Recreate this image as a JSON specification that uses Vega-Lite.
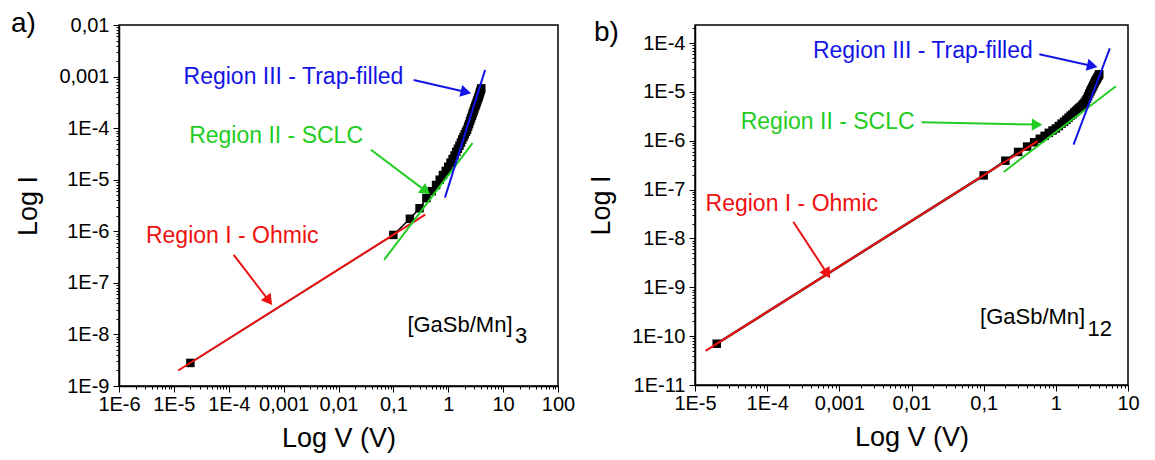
{
  "$schema": "https://vega.github.io/schema/vega-lite/v6.json",
  "background": "white",
  "padding": {"left": 10, "top": 9, "right": 5, "bottom": 5},
  "config": {
    "font": "Liberation Sans",
    "view": {"stroke": "black", "strokeWidth": 1.5},
    "axis": {"labelFontSize": 20, "titleFontSize": 27, "titleFontWeight": "normal", "labelColor": "black", "titleColor": "black", "tickColor": "black", "domainColor": "black", "domainWidth": 1.5, "tickWidth": 1, "labelPadding": 4, "grid": false},
    "text": {"fontSize": 23}
  },
  "datasets": {
    "a_pts": [
      {"V": 2e-5, "I": 2.8e-9}, {"V": 0.1, "I": 8.5e-7}, {"V": 0.2, "I": 1.75e-6}, {"V": 0.3, "I": 2.8e-6}, {"V": 0.4, "I": 4.4e-6},
      {"V": 0.5, "I": 6.0e-6}, {"V": 0.6, "I": 7.9e-6}, {"V": 0.7, "I": 1.0e-5}, {"V": 0.8, "I": 1.23e-5}, {"V": 0.9, "I": 1.48e-5},
      {"V": 1.0, "I": 1.78e-5}, {"V": 1.1, "I": 2.14e-5}, {"V": 1.2, "I": 2.51e-5}, {"V": 1.3, "I": 2.95e-5}, {"V": 1.4, "I": 3.47e-5},
      {"V": 1.5, "I": 3.98e-5}, {"V": 1.6, "I": 4.57e-5}, {"V": 1.7, "I": 5.25e-5}, {"V": 1.8, "I": 6.03e-5}, {"V": 1.9, "I": 6.76e-5},
      {"V": 2.0, "I": 7.59e-5}, {"V": 2.1, "I": 8.51e-5}, {"V": 2.2, "I": 9.33e-5}, {"V": 2.3, "I": 1.07e-4}, {"V": 2.4, "I": 1.2e-4},
      {"V": 2.5, "I": 1.38e-4}, {"V": 2.6, "I": 1.55e-4}, {"V": 2.7, "I": 1.74e-4}, {"V": 2.8, "I": 1.95e-4}, {"V": 2.9, "I": 2.14e-4},
      {"V": 3.0, "I": 2.4e-4}, {"V": 3.1, "I": 2.63e-4}, {"V": 3.2, "I": 2.88e-4}, {"V": 3.3, "I": 3.16e-4}, {"V": 3.4, "I": 3.47e-4},
      {"V": 3.5, "I": 3.8e-4}, {"V": 3.6, "I": 4.1e-4}, {"V": 3.7, "I": 4.5e-4}, {"V": 3.8, "I": 4.95e-4}, {"V": 3.9, "I": 5.4e-4},
      {"V": 4.0, "I": 5.9e-4}
    ],
    "a_fit": [
      {"id": "I", "V": 1.2e-5, "I": 2.0e-9}, {"id": "I", "V": 0.38, "I": 2.1e-6},
      {"id": "II", "V": 0.068, "I": 2.8e-7}, {"id": "II", "V": 2.77, "I": 5.1e-5},
      {"id": "III", "V": 0.87, "I": 4.5e-6}, {"id": "III", "V": 4.7, "I": 1.35e-3}
    ],
    "a_arrows": [
      {"id": "III", "V": 0.234, "I": 8.6e-4, "end": false}, {"id": "III", "V": 2.1, "I": 5.0e-4, "end": true},
      {"id": "II", "V": 0.039, "I": 3.8e-5, "end": false}, {"id": "II", "V": 0.39, "I": 6.0e-6, "end": true},
      {"id": "I", "V": 1.23e-4, "I": 3.5e-7, "end": false}, {"id": "I", "V": 5.4e-4, "I": 4.5e-8, "end": true}
    ],
    "a_text": [
      {"t": "Region III - Trap-filled", "V": 1.5e-5, "I": 1.0e-3, "id": "III"},
      {"t": "Region II - SCLC", "V": 1.9e-5, "I": 7.1e-5, "id": "II"},
      {"t": "Region I - Ohmic", "V": 3.1e-6, "I": 8.1e-7, "id": "I"}
    ],
    "a_sample": [
      {"t": "[GaSb/Mn]", "V": 0.18, "I": 1.55e-8, "id": "S"},
      {"t": "3", "V": 16.5, "I": 9.3e-9, "id": "S"}
    ],
    "b_pts": [
      {"V": 2e-5, "I": 7e-11}, {"V": 0.1, "I": 1.95e-7}, {"V": 0.2, "I": 3.9e-7}, {"V": 0.3, "I": 5.9e-7}, {"V": 0.4, "I": 7.6e-7},
      {"V": 0.5, "I": 9.3e-7}, {"V": 0.6, "I": 1.1e-6}, {"V": 0.7, "I": 1.26e-6}, {"V": 0.8, "I": 1.45e-6}, {"V": 0.9, "I": 1.62e-6},
      {"V": 1.0, "I": 1.78e-6}, {"V": 1.1, "I": 2.0e-6}, {"V": 1.2, "I": 2.24e-6}, {"V": 1.3, "I": 2.45e-6}, {"V": 1.4, "I": 2.69e-6},
      {"V": 1.5, "I": 2.95e-6}, {"V": 1.6, "I": 3.24e-6}, {"V": 1.7, "I": 3.47e-6}, {"V": 1.8, "I": 3.8e-6}, {"V": 1.9, "I": 4.07e-6},
      {"V": 2.0, "I": 4.37e-6}, {"V": 2.1, "I": 4.68e-6}, {"V": 2.2, "I": 4.9e-6}, {"V": 2.3, "I": 5.25e-6}, {"V": 2.4, "I": 5.62e-6},
      {"V": 2.5, "I": 6.03e-6}, {"V": 2.6, "I": 6.6e-6}, {"V": 2.7, "I": 7.24e-6}, {"V": 2.8, "I": 8.13e-6}, {"V": 2.9, "I": 9.12e-6},
      {"V": 3.0, "I": 1.02e-5}, {"V": 3.1, "I": 1.12e-5}, {"V": 3.2, "I": 1.23e-5}, {"V": 3.3, "I": 1.35e-5}, {"V": 3.4, "I": 1.48e-5},
      {"V": 3.5, "I": 1.62e-5}, {"V": 3.6, "I": 1.74e-5}, {"V": 3.7, "I": 1.86e-5}, {"V": 3.8, "I": 2.0e-5}, {"V": 3.9, "I": 2.14e-5},
      {"V": 4.0, "I": 2.29e-5}
    ],
    "b_fit": [
      {"id": "I", "V": 1.4e-5, "I": 5.0e-11}, {"id": "I", "V": 0.56, "I": 9.8e-7},
      {"id": "II", "V": 0.19, "I": 2.3e-7}, {"id": "II", "V": 6.8, "I": 1.3e-5},
      {"id": "III", "V": 1.76, "I": 8.3e-7}, {"id": "III", "V": 5.6, "I": 7.8e-5}
    ],
    "b_arrows": [
      {"id": "III", "V": 0.59, "I": 5.9e-5, "end": false}, {"id": "III", "V": 3.2, "I": 3.4e-5, "end": true},
      {"id": "II", "V": 0.0138, "I": 2.4e-6, "end": false}, {"id": "II", "V": 0.55, "I": 2.14e-6, "end": true},
      {"id": "I", "V": 2.3e-4, "I": 2.2e-8, "end": false}, {"id": "I", "V": 6.8e-4, "I": 1.9e-9, "end": true}
    ],
    "b_text": [
      {"t": "Region III - Trap-filled", "V": 4.3e-4, "I": 6.9e-5, "id": "III"},
      {"t": "Region II - SCLC", "V": 4.3e-5, "I": 2.4e-6, "id": "II"},
      {"t": "Region I - Ohmic", "V": 1.4e-5, "I": 5.1e-8, "id": "I"}
    ],
    "b_sample": [
      {"t": "[GaSb/Mn]", "V": 0.089, "I": 2.5e-10, "id": "S"},
      {"t": "12", "V": 2.75, "I": 1.4e-10, "id": "S"}
    ]
  },
  "hconcat": [
    {
      "width": 439,
      "height": 361,
      "title": {"text": "a)", "anchor": "start", "frame": "group", "fontSize": 28, "fontWeight": "normal", "baseline": "alphabetic", "offset": 0, "dx": -108, "dy": 45},
      "resolve": {"axis": {"x": "independent", "y": "independent"}},
      "layer": [
        {
          "data": {"name": "a_pts"},
          "mark": {"type": "line", "color": "black", "strokeWidth": 1.5},
          "encoding": {
            "x": {"field": "V", "type": "quantitative", "scale": {"type": "log", "domain": [1e-6, 100], "nice": false},
              "axis": {"orient": "bottom", "values": [1e-6, 1e-5, 1e-4, 0.001, 0.01, 0.1, 1, 10, 100], "labelExpr": "datum.value < 0.001 ? '1E' + round(log(datum.value)/LN10) : replace(toString(datum.value), '.', ',')", "title": "Log V (V)", "tickSize": 6, "labelPadding": 2, "labelOverlap": false, "labelFlush": false, "titlePadding": 11}},
            "y": {"field": "I", "type": "quantitative", "scale": {"type": "log", "domain": [1e-9, 0.01], "nice": false},
              "axis": {"orient": "left", "values": [1e-9, 1e-8, 1e-7, 1e-6, 1e-5, 1e-4, 0.001, 0.01], "labelExpr": "datum.value < 0.001 ? '1E' + round(log(datum.value)/LN10) : replace(toString(datum.value), '.', ',')", "title": "Log I", "tickSize": 6, "labelOverlap": false, "labelFlush": false, "titlePadding": 16}}
          }
        },
        {
          "data": {"name": "a_pts"},
          "mark": {"type": "point", "shape": "square", "filled": true, "color": "black", "size": 72, "opacity": 1},
          "encoding": {
            "x": {"field": "V", "type": "quantitative", "scale": {"type": "log", "domain": [1e-6, 100], "nice": false},
              "axis": {"orient": "bottom", "values": [2e-6,3e-6,4e-6,5e-6,6e-6,7e-6,8e-6,9e-6,2e-5,3e-5,4e-5,5e-5,6e-5,7e-5,8e-5,9e-5,2e-4,3e-4,4e-4,5e-4,6e-4,7e-4,8e-4,9e-4,0.002,0.003,0.004,0.005,0.006,0.007,0.008,0.009,0.02,0.03,0.04,0.05,0.06,0.07,0.08,0.09,0.2,0.3,0.4,0.5,0.6,0.7,0.8,0.9,2,3,4,5,6,7,8,9,20,30,40,50,60,70,80,90], "labels": false, "domain": false, "tickSize": 3, "title": null}},
            "y": {"field": "I", "type": "quantitative", "scale": {"type": "log", "domain": [1e-9, 0.01], "nice": false},
              "axis": {"orient": "left", "values": [2e-9,3e-9,4e-9,5e-9,6e-9,7e-9,8e-9,9e-9,2e-8,3e-8,4e-8,5e-8,6e-8,7e-8,8e-8,9e-8,2e-7,3e-7,4e-7,5e-7,6e-7,7e-7,8e-7,9e-7,2e-6,3e-6,4e-6,5e-6,6e-6,7e-6,8e-6,9e-6,2e-5,3e-5,4e-5,5e-5,6e-5,7e-5,8e-5,9e-5,2e-4,3e-4,4e-4,5e-4,6e-4,7e-4,8e-4,9e-4,0.002,0.003,0.004,0.005,0.006,0.007,0.008,0.009], "labels": false, "domain": false, "tickSize": 3, "title": null}}
          }
        },
        {
          "data": {"name": "a_fit"},
          "mark": {"type": "line", "strokeWidth": 2, "clip": true},
          "encoding": {
            "x": {"field": "V", "type": "quantitative", "axis": null},
            "y": {"field": "I", "type": "quantitative", "axis": null},
            "detail": {"field": "id"},
            "color": {"field": "id", "type": "nominal", "scale": {"domain": ["I", "II", "III", "S"], "range": ["#ee1111", "#22cc22", "#1414e6", "#000000"]}, "legend": null}
          }
        },
        {
          "data": {"name": "a_arrows"},
          "mark": {"type": "line", "strokeWidth": 2},
          "encoding": {
            "x": {"field": "V", "type": "quantitative", "axis": null},
            "y": {"field": "I", "type": "quantitative", "axis": null},
            "detail": {"field": "id"},
            "color": {"field": "id", "type": "nominal", "scale": {"domain": ["I", "II", "III", "S"], "range": ["#ee1111", "#22cc22", "#1414e6", "#000000"]}, "legend": null}
          }
        },
        {
          "data": {"name": "a_arrows"},
          "transform": [{"filter": "datum.end && datum.id == 'III'"}],
          "mark": {"type": "point", "shape": "triangle-right", "filled": true, "size": 150, "angle": 13, "color": "#1414e6", "opacity": 1},
          "encoding": {"x": {"field": "V", "type": "quantitative", "axis": null}, "y": {"field": "I", "type": "quantitative", "axis": null}}
        },
        {
          "data": {"name": "a_arrows"},
          "transform": [{"filter": "datum.end && datum.id == 'II'"}],
          "mark": {"type": "point", "shape": "triangle-right", "filled": true, "size": 150, "angle": 37, "color": "#22cc22", "opacity": 1},
          "encoding": {"x": {"field": "V", "type": "quantitative", "axis": null}, "y": {"field": "I", "type": "quantitative", "axis": null}}
        },
        {
          "data": {"name": "a_arrows"},
          "transform": [{"filter": "datum.end && datum.id == 'I'"}],
          "mark": {"type": "point", "shape": "triangle-right", "filled": true, "size": 150, "angle": 53, "color": "#ee1111", "opacity": 1},
          "encoding": {"x": {"field": "V", "type": "quantitative", "axis": null}, "y": {"field": "I", "type": "quantitative", "axis": null}}
        },
        {
          "data": {"name": "a_text"},
          "mark": {"type": "text", "align": "left", "baseline": "middle", "fontSize": 23},
          "encoding": {
            "x": {"field": "V", "type": "quantitative", "axis": null},
            "y": {"field": "I", "type": "quantitative", "axis": null},
            "text": {"field": "t"},
            "color": {"field": "id", "type": "nominal", "scale": {"domain": ["I", "II", "III", "S"], "range": ["#ee1111", "#22cc22", "#1414e6", "#000000"]}, "legend": null}
          }
        },
        {
          "data": {"name": "a_sample"},
          "mark": {"type": "text", "align": "left", "baseline": "middle", "fontSize": 22, "color": "black"},
          "encoding": {
            "x": {"field": "V", "type": "quantitative", "axis": null},
            "y": {"field": "I", "type": "quantitative", "axis": null},
            "text": {"field": "t"}
          }
        }
      ]
    },
    {
      "width": 433,
      "height": 360,
      "title": {"text": "b)", "anchor": "start", "frame": "group", "fontSize": 28, "fontWeight": "normal", "baseline": "alphabetic", "offset": 0, "dx": -101, "dy": 44},
      "resolve": {"axis": {"x": "independent", "y": "independent"}},
      "layer": [
        {
          "data": {"name": "b_pts"},
          "mark": {"type": "line", "color": "#222222", "strokeWidth": 2.5},
          "encoding": {
            "x": {"field": "V", "type": "quantitative", "scale": {"type": "log", "domain": [1e-5, 10], "nice": false},
              "axis": {"orient": "bottom", "values": [1e-5, 1e-4, 0.001, 0.01, 0.1, 1, 10], "labelExpr": "datum.value < 0.001 ? '1E' + round(log(datum.value)/LN10) : replace(toString(datum.value), '.', ',')", "title": "Log V (V)", "tickSize": 6, "labelPadding": 2, "labelOverlap": false, "labelFlush": false, "titlePadding": 11}},
            "y": {"field": "I", "type": "quantitative", "scale": {"type": "log", "domain": [1e-11, 2.34e-4], "nice": false},
              "axis": {"orient": "left", "values": [1e-11, 1e-10, 1e-9, 1e-8, 1e-7, 1e-6, 1e-5, 1e-4], "labelExpr": "datum.value < 0.001 ? '1E' + round(log(datum.value)/LN10) : replace(toString(datum.value), '.', ',')", "title": "Log I", "tickSize": 6, "labelOverlap": false, "labelFlush": false, "titlePadding": 16}}
          }
        },
        {
          "data": {"name": "b_pts"},
          "mark": {"type": "point", "shape": "square", "filled": true, "color": "black", "size": 72, "opacity": 1},
          "encoding": {
            "x": {"field": "V", "type": "quantitative", "scale": {"type": "log", "domain": [1e-5, 10], "nice": false},
              "axis": {"orient": "bottom", "values": [2e-5,3e-5,4e-5,5e-5,6e-5,7e-5,8e-5,9e-5,2e-4,3e-4,4e-4,5e-4,6e-4,7e-4,8e-4,9e-4,0.002,0.003,0.004,0.005,0.006,0.007,0.008,0.009,0.02,0.03,0.04,0.05,0.06,0.07,0.08,0.09,0.2,0.3,0.4,0.5,0.6,0.7,0.8,0.9,2,3,4,5,6,7,8,9], "labels": false, "domain": false, "tickSize": 3, "title": null}},
            "y": {"field": "I", "type": "quantitative", "scale": {"type": "log", "domain": [1e-11, 2.34e-4], "nice": false},
              "axis": {"orient": "left", "values": [2e-11,3e-11,4e-11,5e-11,6e-11,7e-11,8e-11,9e-11,2e-10,3e-10,4e-10,5e-10,6e-10,7e-10,8e-10,9e-10,2e-9,3e-9,4e-9,5e-9,6e-9,7e-9,8e-9,9e-9,2e-8,3e-8,4e-8,5e-8,6e-8,7e-8,8e-8,9e-8,2e-7,3e-7,4e-7,5e-7,6e-7,7e-7,8e-7,9e-7,2e-6,3e-6,4e-6,5e-6,6e-6,7e-6,8e-6,9e-6,2e-5,3e-5,4e-5,5e-5,6e-5,7e-5,8e-5,9e-5,2e-4], "labels": false, "domain": false, "tickSize": 3, "title": null}}
          }
        },
        {
          "data": {"name": "b_fit"},
          "mark": {"type": "line", "strokeWidth": 2, "clip": true},
          "encoding": {
            "x": {"field": "V", "type": "quantitative", "axis": null},
            "y": {"field": "I", "type": "quantitative", "axis": null},
            "detail": {"field": "id"},
            "color": {"field": "id", "type": "nominal", "scale": {"domain": ["I", "II", "III", "S"], "range": ["#ee1111", "#22cc22", "#1414e6", "#000000"]}, "legend": null}
          }
        },
        {
          "data": {"name": "b_arrows"},
          "mark": {"type": "line", "strokeWidth": 2},
          "encoding": {
            "x": {"field": "V", "type": "quantitative", "axis": null},
            "y": {"field": "I", "type": "quantitative", "axis": null},
            "detail": {"field": "id"},
            "color": {"field": "id", "type": "nominal", "scale": {"domain": ["I", "II", "III", "S"], "range": ["#ee1111", "#22cc22", "#1414e6", "#000000"]}, "legend": null}
          }
        },
        {
          "data": {"name": "b_arrows"},
          "transform": [{"filter": "datum.end && datum.id == 'III'"}],
          "mark": {"type": "point", "shape": "triangle-right", "filled": true, "size": 150, "angle": 13, "color": "#1414e6", "opacity": 1},
          "encoding": {"x": {"field": "V", "type": "quantitative", "axis": null}, "y": {"field": "I", "type": "quantitative", "axis": null}}
        },
        {
          "data": {"name": "b_arrows"},
          "transform": [{"filter": "datum.end && datum.id == 'II'"}],
          "mark": {"type": "point", "shape": "triangle-right", "filled": true, "size": 150, "angle": 1, "color": "#22cc22", "opacity": 1},
          "encoding": {"x": {"field": "V", "type": "quantitative", "axis": null}, "y": {"field": "I", "type": "quantitative", "axis": null}}
        },
        {
          "data": {"name": "b_arrows"},
          "transform": [{"filter": "datum.end && datum.id == 'I'"}],
          "mark": {"type": "point", "shape": "triangle-right", "filled": true, "size": 150, "angle": 57, "color": "#ee1111", "opacity": 1},
          "encoding": {"x": {"field": "V", "type": "quantitative", "axis": null}, "y": {"field": "I", "type": "quantitative", "axis": null}}
        },
        {
          "data": {"name": "b_text"},
          "mark": {"type": "text", "align": "left", "baseline": "middle", "fontSize": 23},
          "encoding": {
            "x": {"field": "V", "type": "quantitative", "axis": null},
            "y": {"field": "I", "type": "quantitative", "axis": null},
            "text": {"field": "t"},
            "color": {"field": "id", "type": "nominal", "scale": {"domain": ["I", "II", "III", "S"], "range": ["#ee1111", "#22cc22", "#1414e6", "#000000"]}, "legend": null}
          }
        },
        {
          "data": {"name": "b_sample"},
          "mark": {"type": "text", "align": "left", "baseline": "middle", "fontSize": 22, "color": "black"},
          "encoding": {
            "x": {"field": "V", "type": "quantitative", "axis": null},
            "y": {"field": "I", "type": "quantitative", "axis": null},
            "text": {"field": "t"}
          }
        }
      ]
    }
  ],
  "spacing": 137,
  "bounds": "flush"
}
